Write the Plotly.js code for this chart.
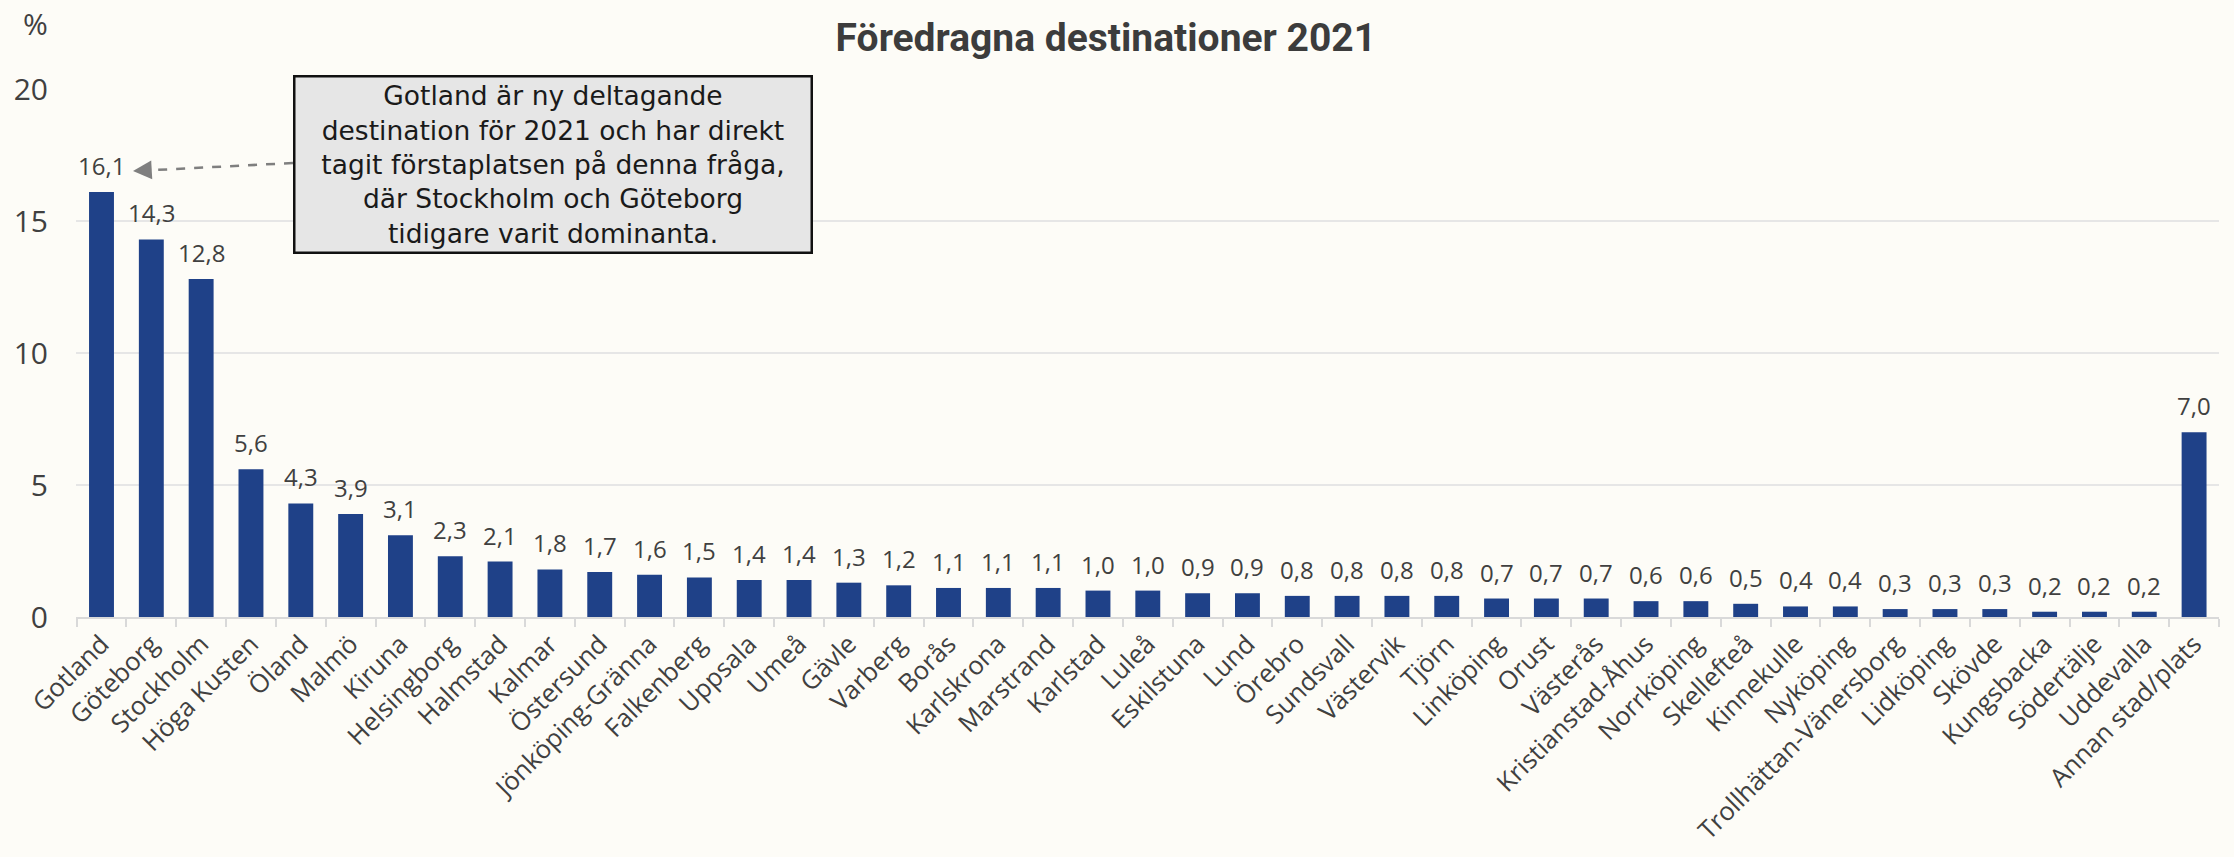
<!DOCTYPE html>
<html>
<head>
<meta charset="utf-8">
<script src="https://cdn.plot.ly/plotly-3.0.1.min.js"></script>
<style>
  html, body { margin: 0; padding: 0; background: #fdfcf7; }
  #chart { width: 2234px; height: 857px; }
</style>
</head>
<body>
<div id="chart"></div>
<script>
const categories = ["Gotland", "Göteborg", "Stockholm", "Höga Kusten", "Öland", "Malmö", "Kiruna", "Helsingborg", "Halmstad", "Kalmar", "Östersund", "Jönköping-Gränna", "Falkenberg", "Uppsala", "Umeå", "Gävle", "Varberg", "Borås", "Karlskrona", "Marstrand", "Karlstad", "Luleå", "Eskilstuna", "Lund", "Örebro", "Sundsvall", "Västervik", "Tjörn", "Linköping", "Orust", "Västerås", "Kristianstad-Åhus", "Norrköping", "Skellefteå", "Kinnekulle", "Nyköping", "Trollhättan-Vänersborg", "Lidköping", "Skövde", "Kungsbacka", "Södertälje", "Uddevalla", "Annan stad/plats"];
const values = [16.1, 14.3, 12.8, 5.6, 4.3, 3.9, 3.1, 2.3, 2.1, 1.8, 1.7, 1.6, 1.5, 1.4, 1.4, 1.3, 1.2, 1.1, 1.1, 1.1, 1.0, 1.0, 0.9, 0.9, 0.8, 0.8, 0.8, 0.8, 0.7, 0.7, 0.7, 0.6, 0.6, 0.5, 0.4, 0.4, 0.3, 0.3, 0.3, 0.2, 0.2, 0.2, 7.0];
const yTickValues = [0, 5, 10, 15, 20];
const yTickLabels = ["0", "5", "10", "15", "20"];
const titleText = "Föredragna destinationer 2021";
const noteLines = ["Gotland är ny deltagande", "destination för 2021 och har direkt", "tagit förstaplatsen på denna fråga,", "där Stockholm och Göteborg", "tidigare varit dominanta."];

const FONT = "'Open Sans', 'DejaVu Sans', sans-serif";
const TEXT = "#404040";

const labelAnnotations = categories.map((c, i) => ({
  x: c, y: values[i], xref: "x", yref: "y",
  text: values[i].toFixed(1).replace(".", ","),
  showarrow: false, yanchor: "bottom", yshift: 8,
  font: { family: FONT, size: 24, color: TEXT }
}));

const layout = {
  width: 2234, height: 857,
  paper_bgcolor: "#fdfcf7", plot_bgcolor: "#fdfcf7",
  margin: { l: 76, r: 15, t: 89, b: 240, autoexpand: false },
  showlegend: false,
  bargap: 0.5,
  title: {
    text: "<b>" + titleText + "</b>",
    font: { family: "Roboto, sans-serif", size: 39, color: "#3c3c3c" },
    xref: "container", x: 0.495, xanchor: "center",
    yref: "container", y: 0.957, yanchor: "middle"
  },
  xaxis: {
    type: "category",
    tickangle: -45,
    tickfont: { family: FONT, size: 25.5, color: TEXT },
    ticks: "outside", tickson: "boundaries", ticklen: 8, tickwidth: 2, tickcolor: "#d9d9d9",
    showline: true, linecolor: "#d9d9d9", linewidth: 2,
    showgrid: false, automargin: false, fixedrange: true
  },
  yaxis: {
    range: [0, 20],
    tickvals: yTickValues, ticktext: yTickLabels,
    tickfont: { family: FONT, size: 30, color: TEXT },
    ticks: "", ticklabelstandoff: 27,
    showgrid: true, gridcolor: "#e6e6e6", gridwidth: 2,
    zeroline: false, showline: false, automargin: false, fixedrange: true
  },
  shapes: [
    {
      type: "line", xref: "paper", yref: "paper",
      x0: (293 - 76) / 2143, y0: (617 - 163) / 528,
      x1: (145 - 76) / 2143, y1: (617 - 170.5) / 528,
      line: { color: "#7f7f7f", width: 2.5, dash: "dash" }
    }
  ],
  annotations: labelAnnotations.concat([
    {
      xref: "paper", yref: "paper",
      x: (133 - 76) / 2143, y: (617 - 171) / 528,
      ax: 18, ay: -1, axref: "pixel", ayref: "pixel",
      text: "", showarrow: true, arrowhead: 2, arrowsize: 1.5, arrowwidth: 2.5, arrowcolor: "#7f7f7f"
    },
    {
      xref: "paper", yref: "paper",
      x: (553 - 76) / 2143, y: (617 - 164.5) / 528,
      xanchor: "center", yanchor: "middle",
      text: noteLines.join("<br>"),
      showarrow: false, align: "center",
      width: 515, height: 174, borderpad: 0,
      bgcolor: "#e6e6e6", bordercolor: "#111111", borderwidth: 2.5,
      font: { family: "'DejaVu Sans', sans-serif", size: 26.5, color: "#1a1a1a" }
    },
    {
      xref: "paper", yref: "paper", x: 0, y: 1,
      xshift: -41, yshift: 66, xanchor: "center", yanchor: "middle",
      text: "%", showarrow: false,
      font: { family: FONT, size: 30, color: TEXT }
    }
  ])
};

const trace = {
  type: "bar",
  x: categories,
  y: values,
  marker: { color: "#1f4188" },
  hoverinfo: "x+y"
};

Plotly.newPlot("chart", [trace], layout, { displayModeBar: false, staticPlot: true });
</script>
</body>
</html>
